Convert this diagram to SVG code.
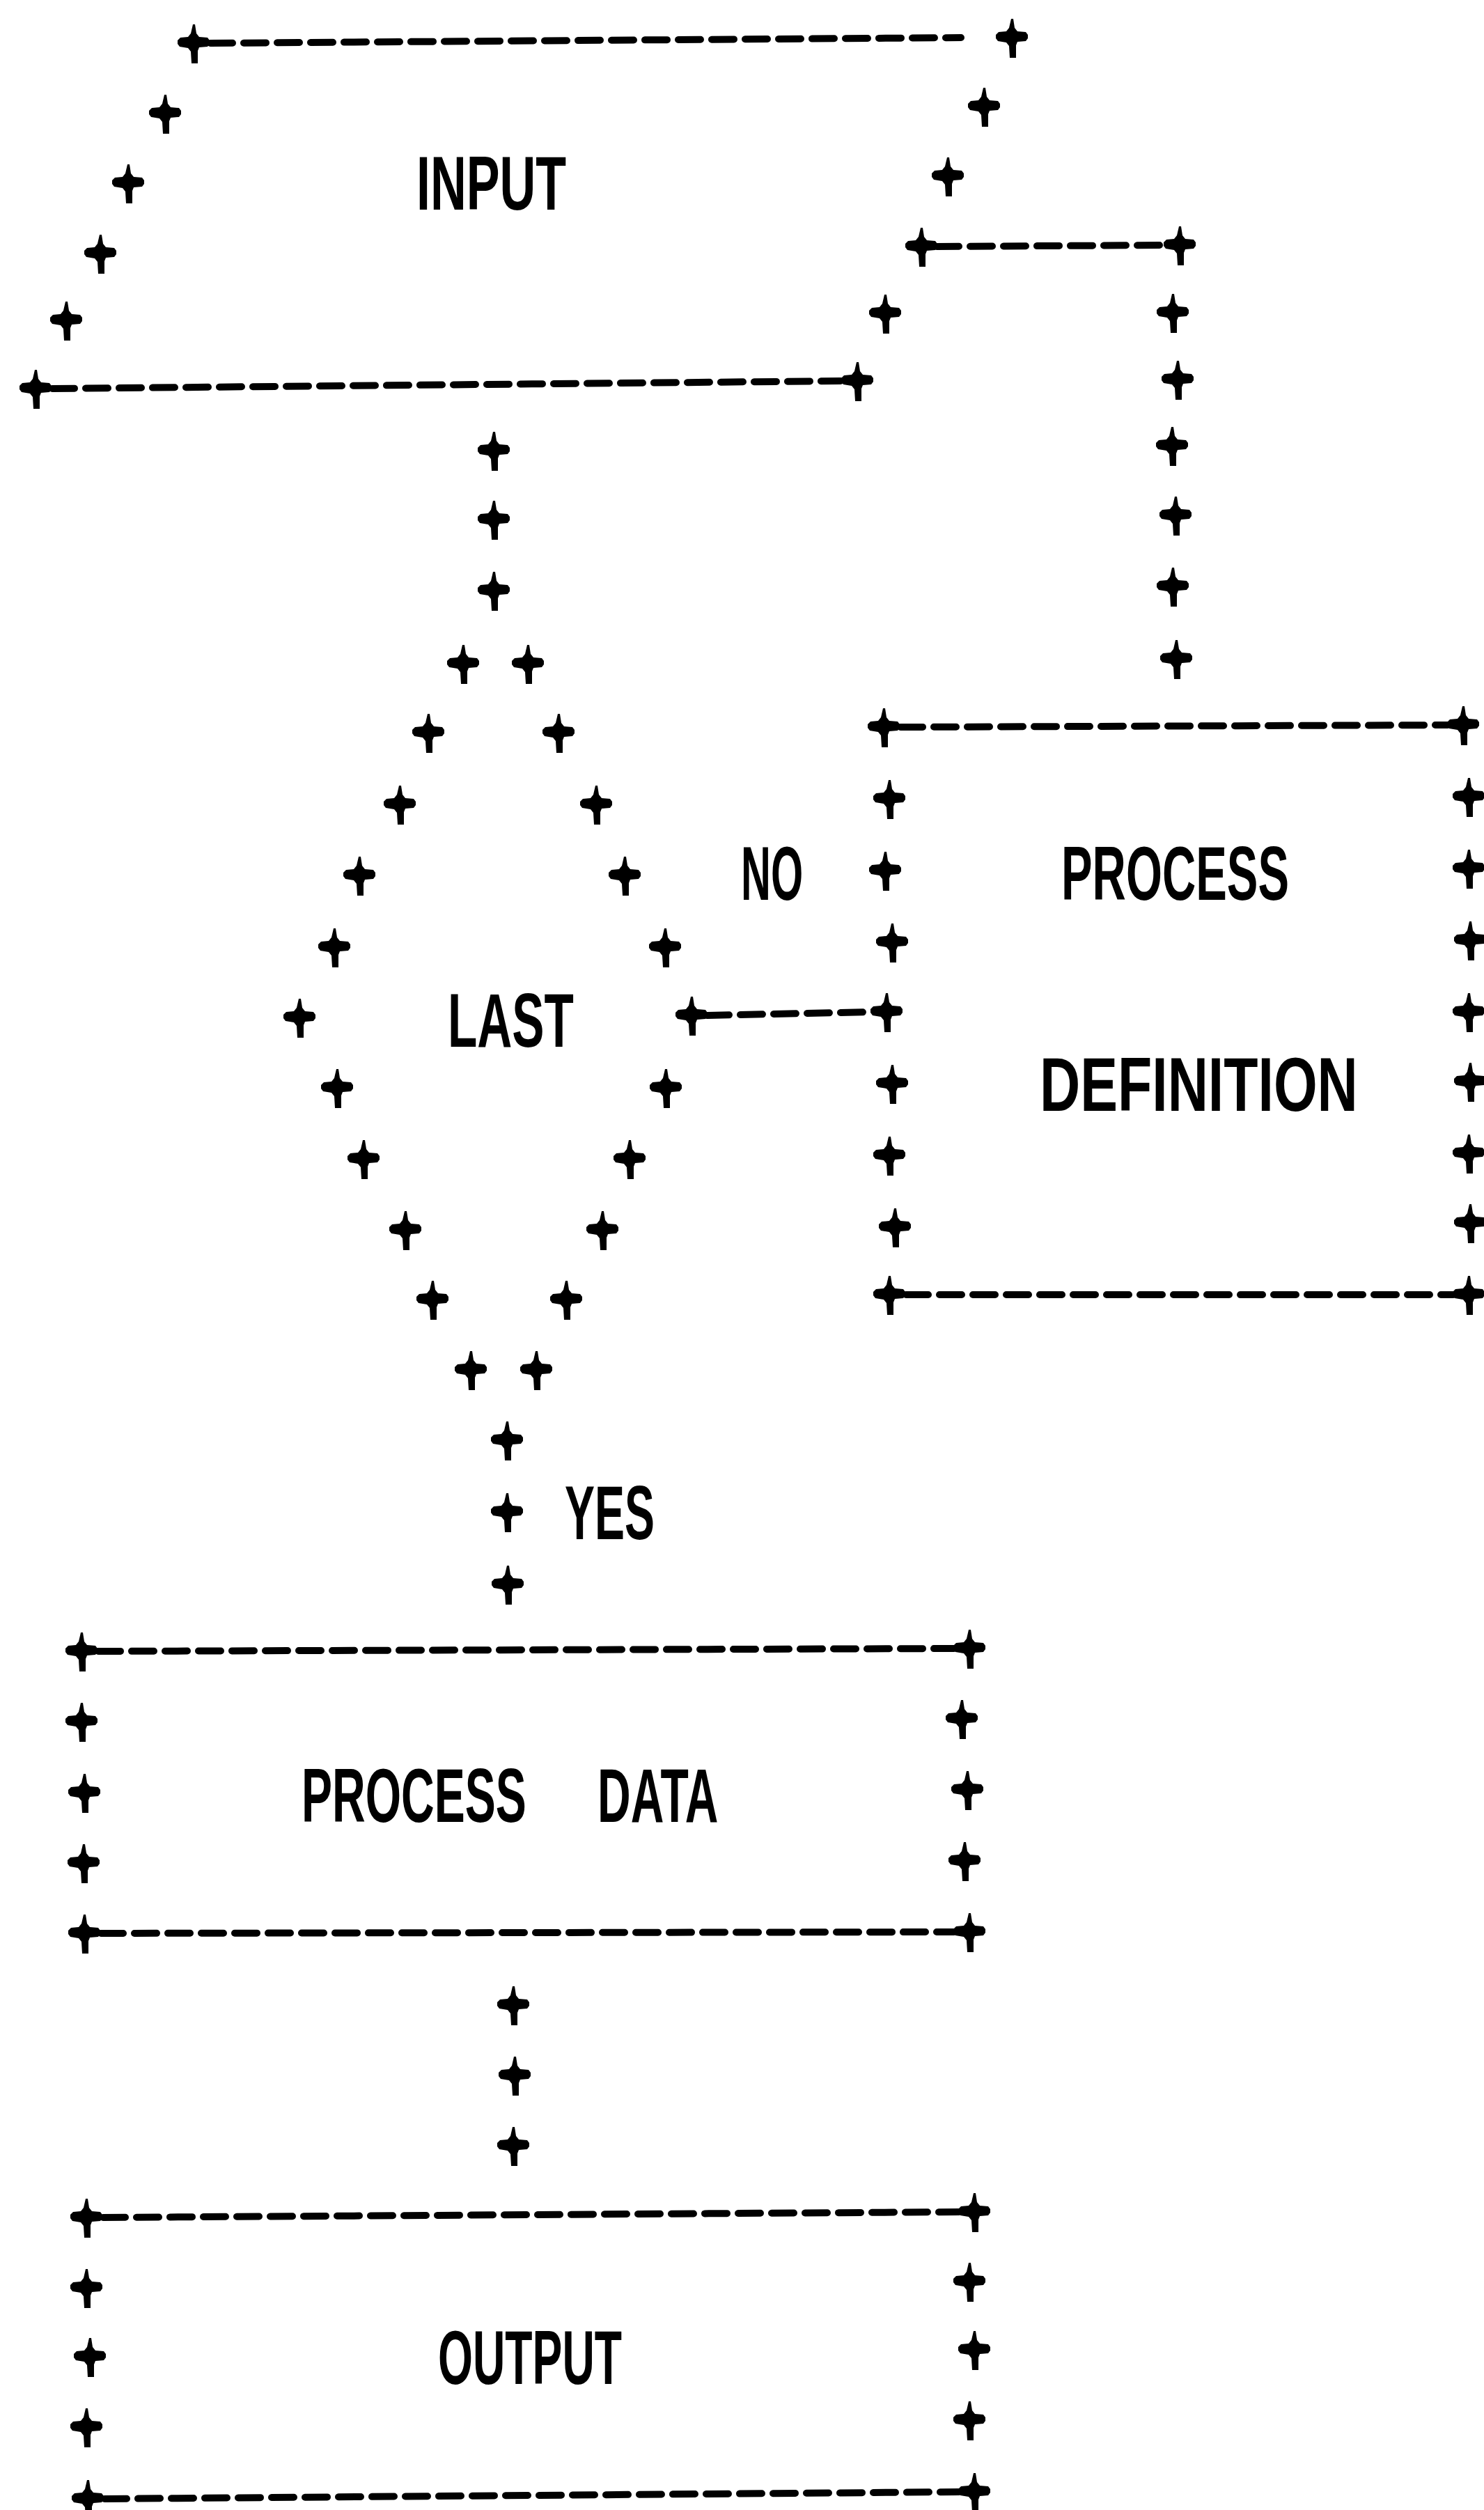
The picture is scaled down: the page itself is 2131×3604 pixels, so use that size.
<svg xmlns="http://www.w3.org/2000/svg" width="2131" height="3604" viewBox="0 0 2131 3604">
<style>
.ln{stroke:#000;stroke-width:10;stroke-dasharray:32 16;stroke-linecap:round;fill:none}
.t{font-family:"Liberation Sans","DejaVu Sans",sans-serif;font-weight:bold;font-size:110px;fill:#000}
</style>
<defs>
<path id="p" d="M-1,-27 L2,-27 L4,-14 L8,-9 L20,-8 L23,-4 L23,1 L20,5 L8,6 L6,11 L6,29 L-3,29 L-4,12 L-8,7 L-20,5 L-23,1 L-23,-4 L-19,-8 L-8,-9 L-4,-14 Z" fill="#000"/>
</defs>
<rect width="2131" height="3604" fill="#fff"/>

<g id="connectors">
<line class="ln" x1="1345" y1="354" x2="1672" y2="352"/>
<use href="#p" x="1694" y="352"/>
<use href="#p" x="1684" y="449"/>
<use href="#p" x="1691" y="545"/>
<use href="#p" x="1683" y="640"/>
<use href="#p" x="1688" y="740"/>
<use href="#p" x="1684" y="842"/>
<use href="#p" x="1689" y="946"/>
<use href="#p" x="709" y="647"/>
<use href="#p" x="709" y="746"/>
<use href="#p" x="709" y="848"/>
<line class="ln" x1="1015" y1="1458" x2="1251" y2="1453"/>
<text class="t" transform="translate(1064,1292) scale(0.54,1)">NO</text>
<use href="#p" x="728" y="2068"/>
<use href="#p" x="728" y="2171"/>
<use href="#p" x="729" y="2275"/>
<text class="t" transform="translate(811,2210) scale(0.586,1)">YES</text>
<use href="#p" x="737" y="2879"/>
<use href="#p" x="739" y="2980"/>
<use href="#p" x="737" y="3081"/>
</g>

<g id="node-input">
<line class="ln" x1="302" y1="62" x2="1380" y2="54"/>
<line class="ln" x1="75" y1="558" x2="1207" y2="547"/>
<use href="#p" x="278" y="62"/>
<use href="#p" x="1453" y="54"/>
<use href="#p" x="237" y="163"/>
<use href="#p" x="184" y="263"/>
<use href="#p" x="144" y="364"/>
<use href="#p" x="95" y="460"/>
<use href="#p" x="51" y="558"/>
<use href="#p" x="1231" y="547"/>
<use href="#p" x="1413" y="153"/>
<use href="#p" x="1361" y="253"/>
<use href="#p" x="1323" y="354"/>
<use href="#p" x="1271" y="450"/>
<text class="t" transform="translate(598,301) scale(0.652,1)">INPUT</text>
</g>

<g id="node-decision">
<use href="#p" x="665" y="953"/><use href="#p" x="758" y="953"/>
<use href="#p" x="615" y="1052"/><use href="#p" x="802" y="1052"/>
<use href="#p" x="574" y="1155"/><use href="#p" x="856" y="1155"/>
<use href="#p" x="516" y="1257"/><use href="#p" x="897" y="1257"/>
<use href="#p" x="480" y="1360"/><use href="#p" x="955" y="1360"/>
<use href="#p" x="430" y="1461"/><use href="#p" x="993" y="1458"/>
<use href="#p" x="484" y="1562"/><use href="#p" x="956" y="1562"/>
<use href="#p" x="522" y="1664"/><use href="#p" x="904" y="1664"/>
<use href="#p" x="582" y="1766"/><use href="#p" x="865" y="1766"/>
<use href="#p" x="621" y="1866"/><use href="#p" x="813" y="1866"/>
<use href="#p" x="676" y="1967"/><use href="#p" x="770" y="1967"/>
<text class="t" transform="translate(643,1503) scale(0.63,1)">LAST</text>
</g>

<g id="node-process-definition">
<line class="ln" x1="1293" y1="1044" x2="2079" y2="1041"/>
<line class="ln" x1="1301" y1="1859" x2="2087" y2="1859"/>
<use href="#p" x="1269" y="1044"/><use href="#p" x="2101" y="1041"/>
<use href="#p" x="1277" y="1147"/><use href="#p" x="2109" y="1144"/>
<use href="#p" x="1271" y="1250"/><use href="#p" x="2109" y="1247"/>
<use href="#p" x="1281" y="1353"/><use href="#p" x="2111" y="1350"/>
<use href="#p" x="1273" y="1453"/><use href="#p" x="2109" y="1453"/>
<use href="#p" x="1281" y="1556"/><use href="#p" x="2111" y="1553"/>
<use href="#p" x="1277" y="1659"/><use href="#p" x="2109" y="1656"/>
<use href="#p" x="1285" y="1762"/><use href="#p" x="2111" y="1756"/>
<use href="#p" x="1277" y="1859"/><use href="#p" x="2109" y="1859"/>
<text class="t" transform="translate(1524,1292) scale(0.608,1)">PROCESS</text>
<text class="t" transform="translate(1493,1595) scale(0.733,1)">DEFINITION</text>
</g>

<g id="node-process-data">
<line class="ln" x1="141" y1="2371" x2="1370" y2="2367"/>
<line class="ln" x1="145" y1="2776" x2="1370" y2="2774"/>
<use href="#p" x="117" y="2371"/><use href="#p" x="1392" y="2367"/>
<use href="#p" x="117" y="2472"/><use href="#p" x="1381" y="2468"/>
<use href="#p" x="121" y="2574"/><use href="#p" x="1389" y="2570"/>
<use href="#p" x="120" y="2675"/><use href="#p" x="1385" y="2672"/>
<use href="#p" x="121" y="2776"/><use href="#p" x="1392" y="2774"/>
<text class="t" transform="translate(433,2616) scale(0.6,1)">PROCESS</text>
<text class="t" transform="translate(858,2616) scale(0.6,1)">DATA</text>
</g>

<g id="node-output">
<line class="ln" x1="148" y1="3184" x2="1377" y2="3176"/>
<line class="ln" x1="150" y1="3588" x2="1377" y2="3578"/>
<use href="#p" x="124" y="3184"/><use href="#p" x="1399" y="3176"/>
<use href="#p" x="124" y="3285"/><use href="#p" x="1392" y="3276"/>
<use href="#p" x="129" y="3384"/><use href="#p" x="1399" y="3374"/>
<use href="#p" x="124" y="3485"/><use href="#p" x="1392" y="3475"/>
<use href="#p" x="126" y="3588"/><use href="#p" x="1399" y="3578"/>
<text class="t" transform="translate(629,3423) scale(0.584,1)">OUTPUT</text>
</g>
</svg>
